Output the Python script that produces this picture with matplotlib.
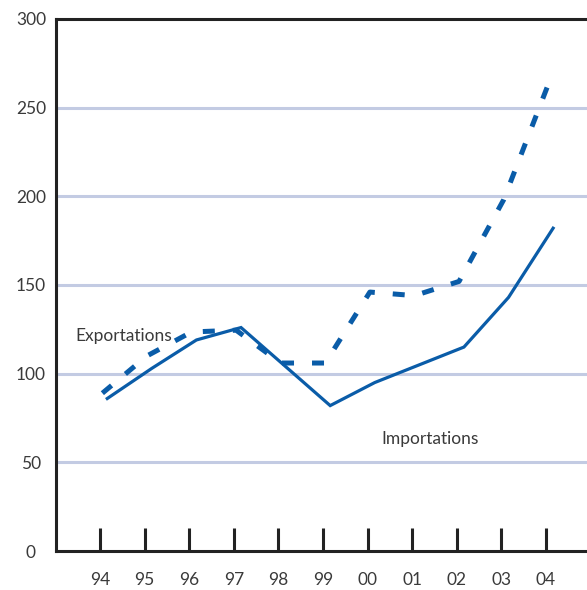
import matplotlib

matplotlib.use('Agg')

import matplotlib.pyplot as plt  # noqa: E402
import numpy as np               # noqa: E402

# Data (index values, base ~100)
years = ['94', '95', '96', '97', '98', '99', '00', '01', '02', '03', '04']
exportations = [89, 110, 123.5, 124.5, 106, 106, 146, 144, 152, 198, 263]
importations = [86, 103, 119, 126, 104, 82, 95, 105, 115, 143, 182]
y_ticks = [0, 50, 100, 150, 200, 250, 300]

BLUE = '#0a5ca8'
GRID = '#c3cbe3'
TEXT = '#3a3a3a'

plt.rcParams['font.family'] = ['Lato', 'DejaVu Sans']

fig = plt.figure(figsize=(5.87, 5.90), dpi=100)
ax = fig.add_axes([0.0954, 0.066, 0.9046, 0.902])

x = np.arange(len(years))

ax.plot(x + 0.16, importations, color=BLUE, linewidth=2.3,
        solid_joinstyle='miter', zorder=3)
ax.plot(x + 0.05, exportations, color=BLUE, linewidth=3.6,
        linestyle=(0, (2.4, 3.6)), dash_capstyle='butt', zorder=3)

ax.set_xlim(-0.99, 10.92)
ax.set_ylim(0, 300)

for v in y_ticks[1:-1]:
    ax.axhline(v, color=GRID, linewidth=2.2, zorder=1)

ax.set_xticks(x)
ax.set_xticklabels(years)
ax.set_yticks(y_ticks)
ax.tick_params(axis='x', direction='in', length=16.5, width=2.2,
               color='#222222', pad=15, labelsize=12.5, labelcolor=TEXT)
ax.tick_params(axis='y', length=0, pad=18, labelsize=12.5, labelcolor=TEXT)
for lab in ax.get_yticklabels():
    lab.set_horizontalalignment('center')

for side in ('left', 'bottom', 'top'):
    ax.spines[side].set_linewidth(2.2)
    ax.spines[side].set_color('#222222')
ax.spines['right'].set_visible(False)

ax.text(-0.56, 121, 'Exportations', fontsize=12.5, color=TEXT,
        ha='left', va='center')
ax.text(6.3, 63, 'Importations', fontsize=12.5, color=TEXT,
        ha='left', va='center')

fig.savefig('out.png', dpi=100)
plt.close(fig)
